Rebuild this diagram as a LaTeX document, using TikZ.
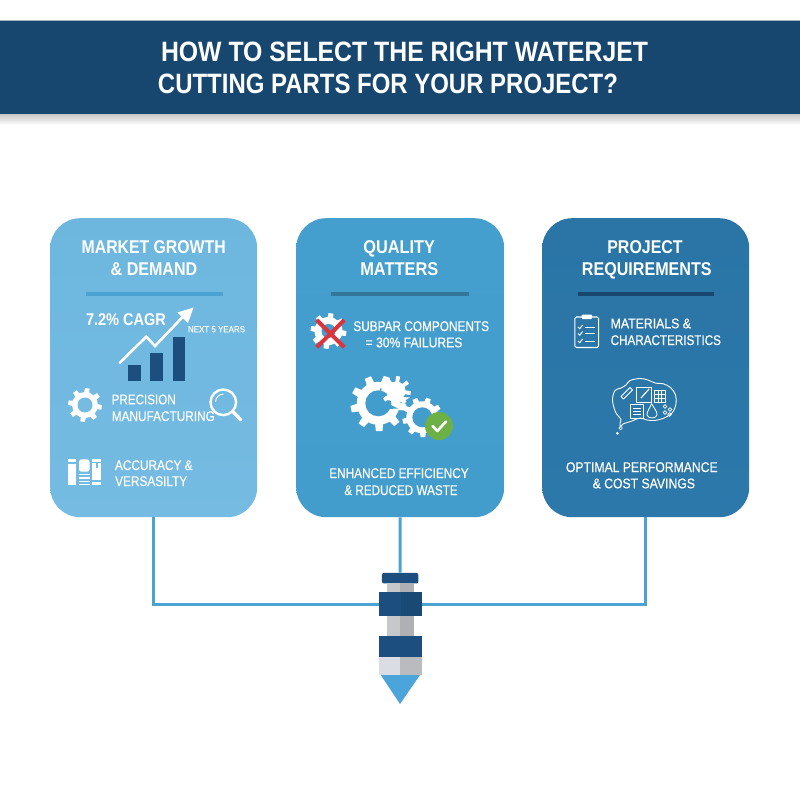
\documentclass[tikz,border=0pt]{standalone}
\usepackage{graphicx}
\usepackage{fontspec}
\setmainfont{Liberation Sans}
\newfontfamily\medf[FakeBold=0.35]{Liberation Sans}
\usetikzlibrary{calc}
\definecolor{navy}{HTML}{17466F}
\definecolor{barblue}{HTML}{1C4F80}
\definecolor{barblueB}{HTML}{194975}
\definecolor{cardA}{HTML}{75BBE2}
\definecolor{cardAt}{HTML}{6DB7DF}
\definecolor{cardB}{HTML}{439DCC}
\definecolor{cardBt}{HTML}{459FCE}
\definecolor{cardC}{HTML}{2C78AA}
\definecolor{cardCt}{HTML}{2A75A6}
\definecolor{linkblue}{HTML}{4BA3D3}
\definecolor{tipblue}{HTML}{4BA5DA}
\definecolor{redx}{HTML}{DB343C}
\definecolor{okgreen}{HTML}{6DB045}
\definecolor{silverL}{HTML}{DADDE3}
\definecolor{silverR}{HTML}{B9BBBF}
\definecolor{neckL}{HTML}{C6C8CB}
\definecolor{neckR}{HTML}{AEB0B3}
\tikzset{
  x=1pt,y=-1pt,
  card/.style={minimum width=#1,minimum height=299pt,rounded corners=30pt,inner sep=0pt,anchor=north west},
  part/.style={rectangle,inner sep=0pt,anchor=north west},
  link/.style={draw=linkblue,line width=3pt},
  label/.style={text=white,inner sep=0pt,anchor=base},
  ico/.style={draw=white,line width=1.1pt,line join=round,line cap=round},
  icothin/.style={draw=white,line width=.6pt,line join=round}
}
% #1 name, #2 cx, #3 baseline y, #4 width, #5 size, #6 text
\newcommand{\tl}[6]{\node[label] (#1) at (#2,#3) {\resizebox{#4pt}{\height}{\fontsize{#5}{#5}\selectfont\medf #6}};}
\newcommand{\tb}[6]{\node[label] (#1) at (#2,#3) {\resizebox{#4pt}{\height}{\fontsize{#5}{#5}\selectfont\bfseries #6}};}
% x,y,outer,root,hole,teeth,holecolor
\newcommand{\gearicon}[7]{%
  \begin{scope}[shift={(#1,#2)}]
  \fill[white] (0,0) circle (#4);
  \pgfmathsetmacro{\st}{360/#6}
  \pgfmathsetmacro{\hw}{\st*0.27}
  \pgfmathsetmacro{\tw}{\st*0.17}
  \foreach \k in {1,...,#6}{
    \pgfmathsetmacro{\an}{\k*\st+8}
    \fill[white] (\an-\hw:#4-.5) -- (\an-\tw:#3) -- (\an+\tw:#3) -- (\an+\hw:#4-.5) -- cycle;
  }
  \fill[#7] (0,0) circle (#5);
  \end{scope}}
\begin{document}
\begin{tikzpicture}
\useasboundingbox (0,0) rectangle (800,800);
\fill[white] (0,0) rectangle (800,800);

% banner
\shade[top color=black!22,bottom color=white] (0,114) rectangle (800,125);
\node[part,fill=navy,minimum width=800pt,minimum height=94pt] (banner) at (0,20) {};
\draw[white!60!navy,line width=.6pt] (banner.north west) -- (banner.north east);
\tb{ttl1}{404.5}{62}{487}{28}{HOW TO SELECT THE RIGHT WATERJET}
\tb{ttl2}{388}{93.5}{460}{28}{CUTTING PARTS FOR YOUR PROJECT?}

% cards
\node[card=207pt,top color=cardAt,bottom color=cardA] (card1) at (50,218) {};
\node[card=208pt,top color=cardBt,bottom color=cardB] (card2) at (296,218) {};
\node[card=207pt,top color=cardCt,bottom color=cardC] (card3) at (542,218) {};

% nozzle
\node[part,fill=barblue,minimum width=36.5pt,minimum height=10.5pt,rounded corners=2pt] (cap) at (381.7,572.7) {};
\node[part,fill=neckL,minimum width=13.3pt,minimum height=9pt] (upL) at (386.7,583) {};
\node[part,fill=neckR,minimum width=13.3pt,minimum height=9pt] (upR) at (400,583) {};
\node[part,fill=barblue,minimum width=21.3pt,minimum height=23.7pt] (collarL) at (379,592) {};
\node[part,fill=barblueB,minimum width=21.4pt,minimum height=23.7pt] (collarR) at (400.3,592) {};
\node[part,fill=neckL,minimum width=13.3pt,minimum height=20.5pt] (neckA) at (386.7,615.7) {};
\node[part,fill=neckR,minimum width=13.3pt,minimum height=20.5pt] (neckB) at (400,615.7) {};
\node[part,fill=barblue,minimum width=43.5pt,minimum height=21pt] (lower) at (378.5,636) {};
\node[part,fill=silverL,minimum width=21.5pt,minimum height=18pt] (silL) at (378.5,657) {};
\node[part,fill=silverR,minimum width=22pt,minimum height=18pt] (silR) at (400,657) {};
\fill[tipblue] (380.7,675) -- (420,675) -- (400,704) -- cycle;

% connectors
\draw[link] (card1.south) |- (collarL.west);
\draw[link] (card2.south) -- (cap.north);
\draw[link] (card3.south) |- (collarR.east);

% ---- card 1
\tb{a1}{153.7}{253.5}{144}{18.5}{MARKET GROWTH}
\tb{a2}{154}{275}{86.6}{18.5}{\& DEMAND}
\fill[linkblue] (85.7,292.2) rectangle (223,296);
\tb{a3}{126}{325}{80}{17}{7.2\% CAGR}
\tl{a4}{216.5}{332.3}{57}{9}{NEXT 5 YEARS}
\fill[barblue] (128,365.3) rectangle (140.7,380.7);
\fill[barblue] (150.3,353.3) rectangle (163,380.7);
\fill[barblue] (172.7,337.3) rectangle (185.3,380.7);
\draw[white,line width=2.6pt,line join=miter] (119.3,363.3) -- (146.3,336.7) -- (155,346) -- (186,313.5);
\fill[white] (193.5,307.5) -- (177.5,312.5) -- (188,323) -- cycle;
\gearicon{85}{405}{17}{13}{7.5}{8}{cardA}
\tl{a5}{143.7}{404.3}{64}{14}{PRECISION}
\tl{a6}{163.3}{421}{103}{14}{MANUFACTURING}
\draw[white,line width=2.4pt] (223.3,402.3) circle (12.8);
\draw[white,line width=.9pt] (215.5,402) arc (180:270:8);
\draw[white,line width=3.4pt,line cap=round] (232.8,411.5) -- (241,420);
% books
\fill[white] (68.3,459.3) rectangle (76,461.7);
\fill[white] (68.3,464) rectangle (76,485);
\fill[white,rounded corners=2.5pt] (79,459.3) rectangle (89.5,471.7);
\foreach \yy in {473.5,477,480.5,483.5}{\fill[white] (79,\yy) rectangle (90,\yy+1.6);}
\fill[white] (92.3,459.3) rectangle (100.7,461.7);
\fill[white] (92.3,463.3) rectangle (100.7,480);
\fill[white] (92.3,481.5) rectangle (100.7,485);
\fill[cardA] (95.8,463.3) rectangle (98,468);
\tl{a7}{153.8}{470}{77.7}{14}{ACCURACY \&}
\tl{a8}{151.2}{486}{72}{14}{VERSASILTY}

% ---- card 2
\tb{b1}{399.2}{253.5}{71.7}{18.5}{QUALITY}
\tb{b2}{399.3}{275}{78}{18.5}{MATTERS}
\fill[cardB!75!black] (331,292.2) rectangle (469,296);
\gearicon{328.5}{331}{18}{14}{7}{8}{cardB}
\draw[redx,line width=4pt] (316.7,320) -- (344.3,347.3);
\draw[redx,line width=4pt] (344.3,320) -- (316.7,347.3);
\tl{b3}{421.2}{331}{135.7}{14}{SUBPAR COMPONENTS}
\tl{b4}{414}{347.3}{96.7}{14}{= 30\% FAILURES}
\gearicon{378.3}{403.3}{28}{21.5}{13}{9}{cardB}
\gearicon{396}{391}{15}{9.5}{0.1}{8}{cardB}
\fill[white] (387,396) -- (410,397.5) -- (402,402) -- (386,400) -- cycle;
\fill[cardB] (380,388.5) -- (381.5,388) -- (381,398) -- (380,398) -- cycle;
\fill[cardB] (383,405.5) -- (391,405) -- (398,408.5) -- (388,409) -- cycle;
\gearicon{422.3}{417.3}{20}{16}{10}{9}{cardB}
\node[circle,fill=okgreen,minimum size=28pt,inner sep=0pt] (okdot) at (439,426) {};
\draw[white,line width=2.6pt,line cap=round,line join=round] (432.5,426) -- (437.3,431) -- (446,421.5);
\tl{b5}{399}{478}{139.3}{14}{ENHANCED EFFICIENCY}
\tl{b6}{401}{495}{113.4}{14}{\& REDUCED WASTE}

% ---- card 3
\tb{c1}{645}{253.5}{75.3}{18.5}{PROJECT}
\tb{c2}{646.8}{275}{129.7}{18.5}{REQUIREMENTS}
\fill[navy] (577.7,292.2) rectangle (714,296);
\draw[ico,rounded corners=1.5pt] (574.8,317) rectangle (598.6,347.5);
\fill[white,rounded corners=1pt] (581.5,314.5) rectangle (592,319);
\foreach \yy in {327,333.5,341}{
  \draw[icothin,line width=.9pt] (578,\yy) -- (579.7,\yy+1.8) -- (582.5,\yy-2);
  \draw[icothin,line width=1pt] (585,\yy) -- (594.5,\yy);
}
\tl{c3}{650.8}{328.3}{80.3}{14}{MATERIALS \&}
\tl{c4}{665.8}{345}{110.3}{14}{CHARACTERISTICS}
% thought cloud
\draw[ico,line width=.9pt] plot[smooth cycle,tension=.55] coordinates {
  (612.5,400) (615,390.5) (621,388) (626,385) (630,380.5) (640,378.5) (648,380) (655,383)
  (664,384) (671,388) (675.5,395) (676,404) (672,413) (663,418.5) (654,420.5) (647,420) (640,418)
  (632,421) (623,424) (620.5,427) (620,423) (621,419.5) (615.5,412) };
\fill[white] (617.3,433.3) circle (1.5);
\draw[icothin] (620.7,428) circle (1.8);
\draw[icothin,line width=1pt] (621,396.5) -- (630,387.5) -- (632.5,390) -- (623.5,399) -- cycle;
\draw[icothin,line width=.9pt] (636.5,387) rectangle (651.5,402);
\draw[icothin,line width=1.2pt] (641,398) -- (649,389);
\draw[icothin] (654,390) rectangle (665,402);
\draw[icothin] (654,394) -- (665,394) (654,398) -- (665,398) (658,390) -- (658,402) (661.5,390) -- (661.5,402);
\draw[icothin,line width=.9pt] (630.5,404.5) rectangle (643,418);
\draw[icothin] (633,408) -- (640.5,408) (633,411) -- (640.5,411) (633,414) -- (640.5,414);
\draw[icothin,line width=.8pt] (651.5,403.5) .. controls (654,408) and (657.5,412) .. (657,415) .. controls (656,419) and (648,419) .. (647,415) .. controls (646.5,412) and (650,408) .. (651.5,403.5);
\foreach \p in {(665,406.5),(670,409.5),(665,412.5),(669.5,414.5)}{\draw[icothin] \p circle (1.9);}
\tl{c5}{641.8}{472}{151.7}{14}{OPTIMAL PERFORMANCE}
\tl{c6}{643.8}{488.3}{102.3}{14}{\& COST SAVINGS}
\end{tikzpicture}
\end{document}
